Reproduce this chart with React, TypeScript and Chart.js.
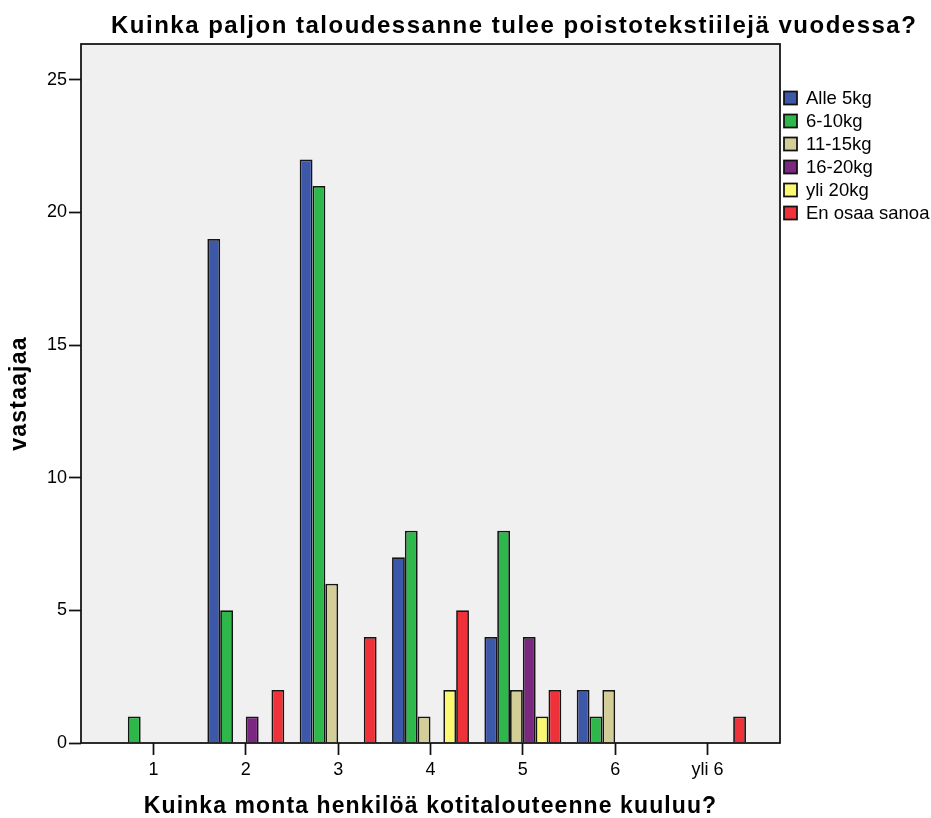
import React, { useEffect, useRef } from "react";
import { Chart, registerables } from "chart.js";

Chart.register(...registerables);

const categories = ["1", "2", "3", "4", "5", "6", "yli 6"];
const seriesNames = ["Alle 5kg", "6-10kg", "11-15kg", "16-20kg", "yli 20kg", "En osaa sanoa"];
const alle5 = [0, 19, 22, 7, 4, 2, 0];
const kg6to10 = [1, 5, 21, 8, 8, 1, 0];
const kg11to15 = [0, 0, 6, 1, 2, 2, 0];
const kg16to20 = [0, 1, 0, 0, 4, 0, 0];
const yli20 = [0, 0, 0, 2, 1, 0, 0];
const enOsaa = [0, 2, 4, 5, 2, 0, 1];
const seriesValues = [alle5, kg6to10, kg11to15, kg16to20, yli20, enOsaa];
const seriesColors = ["#3D57A9", "#2EB84B", "#D3CE97", "#7A2880", "#FBF872", "#EF3139"];
const yTicks = [0, 5, 10, 15, 20, 25];

const titleText = "Kuinka paljon taloudessanne tulee poistotekstiilejä vuodessa?";
const xTitle = "Kuinka monta henkilöä kotitalouteenne kuuluu?";
const yTitle = "vastaajaa";

const FONT = "'Liberation Sans', Arial, Helvetica, sans-serif";

const decorPlugin = {
  id: "decor",
  beforeDraw(chart: any) {
    const { ctx, chartArea: a } = chart;
    ctx.save();
    ctx.fillStyle = "#F0F0F0";
    ctx.fillRect(a.left, a.top, a.right - a.left, a.bottom - a.top);
    ctx.restore();
  },
  afterDatasetsDraw(chart: any) {
    const { ctx, chartArea: a } = chart;
    ctx.save();
    ctx.strokeStyle = "#111";
    ctx.lineWidth = 1.75;
    ctx.strokeRect(a.left, a.top, a.right - a.left, a.bottom - a.top);
    ctx.restore();
  },
  afterDraw(chart: any) {
    const { ctx, chartArea: a } = chart;
    ctx.save();
    ctx.fillStyle = "#000";
    // title
    ctx.font = `bold 24px ${FONT}`;
    (ctx as any).letterSpacing = "1.5px";
    ctx.textAlign = "left";
    ctx.textBaseline = "alphabetic";
    ctx.fillText(titleText, 111, 33);
    // x title
    ctx.font = `bold 23px ${FONT}`;
    (ctx as any).letterSpacing = "1.1px";
    const wx = ctx.measureText(xTitle).width;
    ctx.fillText(xTitle, (a.left + a.right) / 2 - wx / 2, 813);
    // y title
    (ctx as any).letterSpacing = "1.2px";
    const wy = ctx.measureText(yTitle).width;
    ctx.save();
    ctx.translate(26, (a.top + a.bottom) / 2);
    ctx.rotate(-Math.PI / 2);
    ctx.fillText(yTitle, -wy / 2, 0);
    ctx.restore();
    // legend
    (ctx as any).letterSpacing = "0px";
    ctx.font = `18.5px ${FONT}`;
    ctx.textBaseline = "middle";
    chart.data.datasets.forEach((ds: any, i: number) => {
      const cy = 98 + i * 23;
      ctx.fillStyle = ds.backgroundColor;
      ctx.fillRect(784, cy - 6.5, 13, 13);
      ctx.strokeStyle = "#111";
      ctx.lineWidth = 1.75;
      ctx.strokeRect(784, cy - 6.5, 13, 13);
      ctx.fillStyle = "#000";
      ctx.fillText(ds.label, 806, cy + 1);
    });
    ctx.restore();
  },
};

export default function App() {
  const ref = useRef<HTMLCanvasElement | null>(null);
  useEffect(() => {
    if (!ref.current) return;
    const chart = new Chart(ref.current, {
      type: "bar",
      data: {
        datasets: seriesNames.map((name, i) => ({
          label: name,
          data: seriesValues[i].map((v, j) => ({ x: j + 1, y: v })),
          backgroundColor: seriesColors[i],
          borderColor: "#151515",
          borderWidth: 1.75,
          categoryPercentage: 0.833,
          barPercentage: 1,
        })),
      },
      options: {
        animation: false,
        responsive: false,
        events: [],
        layout: { padding: { left: 0, top: 44, right: 151, bottom: 0 } },
        plugins: { legend: { display: false }, title: { display: false }, tooltip: { enabled: false } },
        scales: {
          x: {
            type: "linear",
            offset: false,
            min: 0.215,
            max: 7.785,
            afterFit: (s: any) => {
              s.height = 75;
            },
            border: { display: false },
            grid: {
              display: true,
              offset: false,
              drawOnChartArea: false,
              drawTicks: true,
              tickLength: 12,
              tickColor: "#111",
              tickWidth: 1.75,
            },
            ticks: {
              stepSize: 1,
              includeBounds: false,
              autoSkip: false,
              maxRotation: 0,
              padding: 4,
              color: "#000",
              font: { family: FONT, size: 18 },
              callback: (v: any) => categories[Math.round(Number(v)) - 1] ?? "",
            },
          },
          y: {
            type: "linear",
            min: 0,
            max: 26.35,
            afterFit: (s: any) => {
              s.width = 81;
            },
            afterBuildTicks: (s: any) => {
              s.ticks = yTicks.map((v) => ({ value: v }));
            },
            border: { display: false },
            grid: {
              display: true,
              drawOnChartArea: false,
              drawTicks: true,
              tickLength: 12,
              tickColor: "#111",
              tickWidth: 1.75,
            },
            ticks: {
              padding: 2,
              color: "#000",
              font: { family: FONT, size: 18 },
            },
          },
        },
      },
      plugins: [decorPlugin],
    } as any);
    return () => chart.destroy();
  }, []);
  return (
    <div style={{ position: "absolute", left: 0, top: 0, width: 931, height: 818, background: "#fff" }}>
      <canvas ref={ref} width={931} height={818} />
    </div>
  );
}
